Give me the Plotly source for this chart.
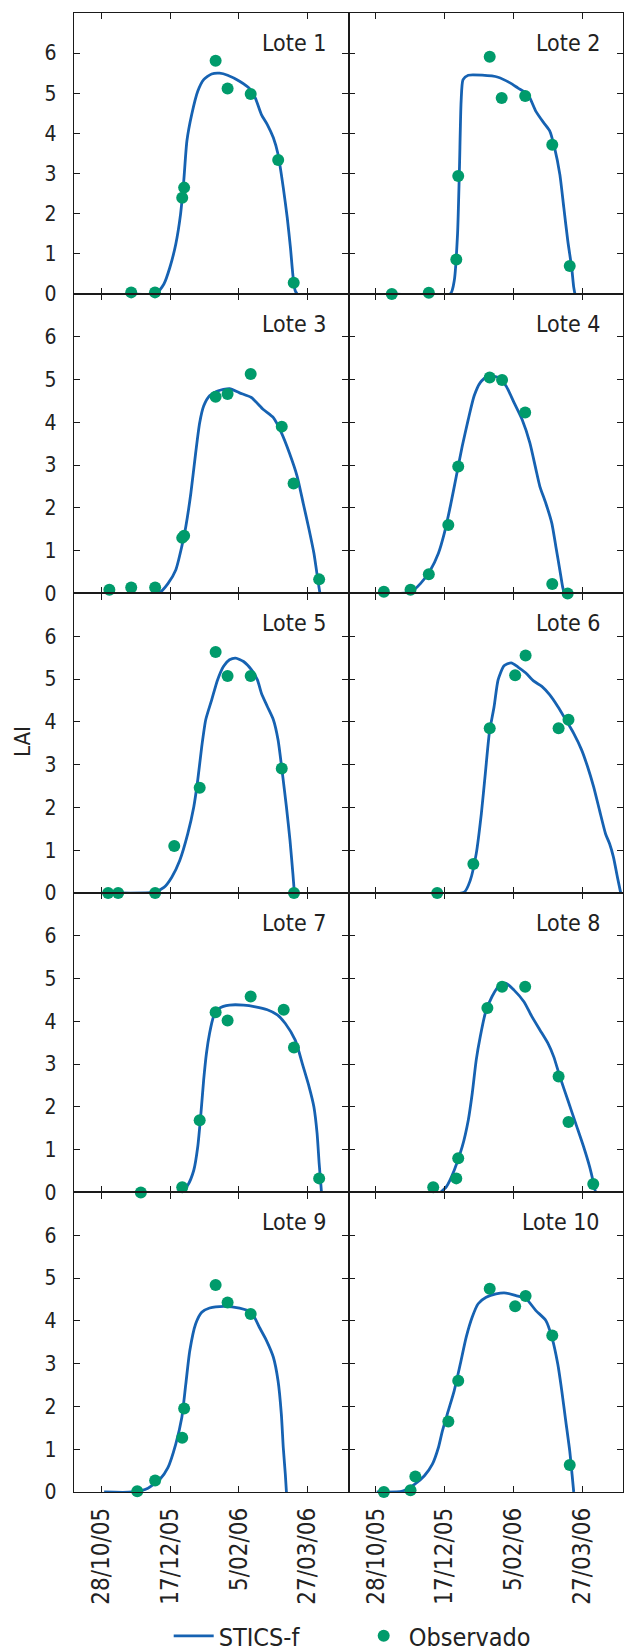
import pandas as pd
import plotly.graph_objects as go
from plotly.subplots import make_subplots

# Days after 28/10/05 (x) and LAI (y)
lote1_sim_dias = [18.0, 39.7, 45.5, 49.8, 54.1, 57.6, 59.9, 62.2, 65.7, 70.1, 74.4, 80.2, 86.0, 91.8, 100.5, 107.7, 112.0, 116.4, 120.7, 125.1, 128.5, 132.3, 135.2, 137.5, 139.5, 141.0, 142.4]
lote1_sim_lai = [0, 0.02, 0.25, 0.66, 1.24, 1.99, 2.81, 3.81, 4.47, 5.05, 5.34, 5.48, 5.50, 5.45, 5.30, 5.12, 4.88, 4.47, 4.22, 3.89, 3.48, 2.65, 1.90, 1.16, 0.41, 0.08, 0]
lote1_obs_dias = [21.7, 39.0, 58.8, 60.2, 83.1, 91.8, 108.6, 128.6, 139.9]
lote1_obs_lai = [0.04, 0.04, 2.40, 2.65, 5.81, 5.12, 4.98, 3.34, 0.28]

lote2_sim_dias = [12.2, 54.1, 57.0, 59.4, 60.8, 62.0, 63.4, 67.2, 77.3, 88.9, 97.6, 103.4, 110.6, 116.4, 122.2, 126.5, 130.0, 133.8, 136.7, 139.6, 142.4, 143.9, 144.8]
lote2_sim_lai = [0, 0, 0.33, 1.49, 3.15, 4.80, 5.34, 5.45, 5.45, 5.40, 5.26, 5.13, 4.97, 4.55, 4.26, 4.06, 3.64, 2.98, 2.15, 1.32, 0.66, 0.17, 0]
lote2_obs_dias = [11.6, 38.5, 58.5, 59.9, 82.8, 91.5, 108.6, 128.3, 141.0]
lote2_obs_lai = [0.0, 0.03, 0.86, 2.94, 5.91, 4.88, 4.93, 3.72, 0.70]

lote3_sim_dias = [22.3, 42.6, 48.4, 54.1, 58.5, 61.4, 65.1, 68.6, 71.5, 74.4, 78.7, 84.5, 93.2, 100.5, 109.1, 117.8, 125.1, 130.9, 136.7, 142.4, 146.8, 151.1, 154.6, 157.5, 159.0]
lote3_sim_lai = [0, 0.03, 0.23, 0.55, 1.10, 1.56, 2.35, 3.29, 3.99, 4.38, 4.62, 4.73, 4.79, 4.69, 4.58, 4.30, 4.11, 3.76, 3.29, 2.74, 2.11, 1.49, 0.94, 0.31, 0]
lote3_obs_dias = [5.8, 21.7, 39.1, 58.8, 60.2, 83.1, 91.8, 108.6, 131.2, 139.8, 158.4]
lote3_obs_lai = [0.09, 0.14, 0.14, 1.30, 1.35, 4.60, 4.66, 5.13, 3.90, 2.57, 0.33]

lote4_sim_dias = [13.6, 25.2, 32.4, 39.7, 45.5, 49.8, 54.1, 58.5, 62.8, 67.2, 71.5, 75.9, 81.7, 88.9, 94.7, 100.5, 106.3, 112.0, 116.4, 119.3, 123.6, 128.0, 130.9, 133.8, 135.8, 137.0]
lote4_sim_lai = [0, 0.03, 0.23, 0.55, 0.94, 1.41, 2.03, 2.74, 3.44, 4.07, 4.62, 4.93, 5.09, 5.05, 4.85, 4.46, 4.07, 3.52, 2.90, 2.50, 2.11, 1.64, 1.10, 0.55, 0.16, 0]
lote4_obs_dias = [5.8, 25.2, 38.5, 52.7, 59.9, 82.8, 91.8, 108.6, 128.3, 139.5]
lote4_obs_lai = [0.04, 0.09, 0.45, 1.60, 2.97, 5.05, 4.99, 4.23, 0.22, 0.0]

lote5_sim_dias = [13.6, 38.2, 45.5, 51.2, 57.0, 62.8, 67.2, 70.1, 73.0, 75.9, 80.2, 84.5, 88.9, 93.2, 97.6, 103.4, 109.1, 113.5, 116.4, 120.7, 125.1, 128.5, 131.7, 134.6, 137.2, 139.3, 140.4]
lote5_sim_lai = [0, 0.02, 0.13, 0.37, 0.76, 1.38, 2.01, 2.64, 3.42, 4.05, 4.51, 4.98, 5.30, 5.45, 5.49, 5.41, 5.22, 4.98, 4.67, 4.36, 4.05, 3.58, 2.79, 2.01, 1.23, 0.45, 0]
lote5_obs_dias = [4.9, 12.2, 39.1, 53.0, 71.5, 83.1, 91.8, 108.6, 131.2, 140.1]
lote5_obs_lai = [0.0, 0.0, 0.0, 1.10, 2.46, 5.63, 5.07, 5.07, 2.91, 0.0]

lote6_sim_dias = [41.1, 64.3, 68.6, 73.0, 76.7, 79.6, 82.5, 86.0, 88.9, 93.2, 98.4, 103.4, 109.1, 114.9, 120.7, 126.5, 132.3, 138.1, 143.9, 149.7, 154.0, 158.4, 162.7, 167.1, 170.0, 172.8, 175.7, 178.1]
lote6_sim_lai = [0, 0.02, 0.29, 0.92, 1.85, 2.79, 3.73, 4.36, 4.98, 5.31, 5.38, 5.28, 5.14, 4.95, 4.83, 4.63, 4.36, 4.05, 3.73, 3.34, 2.95, 2.48, 1.93, 1.38, 1.15, 0.84, 0.37, 0]
lote6_obs_dias = [44.6, 70.9, 82.8, 101.3, 108.9, 132.9, 140.1]
lote6_obs_lai = [0.0, 0.68, 3.85, 5.09, 5.55, 3.85, 4.05]

lote7_sim_dias = [29.5, 58.5, 62.8, 67.2, 70.1, 72.4, 74.4, 76.4, 78.7, 81.6, 86.0, 93.2, 103.4, 112.0, 120.7, 128.0, 133.8, 141.0, 146.8, 151.1, 154.6, 156.9, 158.4, 159.5, 160.1]
lote7_sim_lai = [0, 0.02, 0.17, 0.52, 1.07, 1.85, 2.63, 3.25, 3.72, 4.11, 4.31, 4.38, 4.38, 4.34, 4.27, 4.15, 3.95, 3.56, 2.94, 2.47, 2.00, 1.38, 0.68, 0.25, 0]
lote7_obs_dias = [28.7, 58.8, 71.5, 83.1, 91.8, 108.6, 132.6, 140.1, 158.4]
lote7_obs_lai = [0.0, 0.12, 1.69, 4.21, 4.02, 4.58, 4.27, 3.39, 0.33]

lote8_sim_dias = [46.9, 51.2, 57.0, 62.8, 67.2, 70.1, 73.0, 75.9, 79.6, 84.5, 90.3, 94.7, 100.5, 107.7, 113.5, 119.3, 125.1, 129.4, 133.8, 139.6, 145.4, 151.1, 155.5, 158.4, 159.8]
lote8_sim_lai = [0, 0.13, 0.52, 1.07, 1.69, 2.32, 3.10, 3.64, 4.19, 4.58, 4.85, 4.89, 4.73, 4.46, 4.11, 3.80, 3.49, 3.17, 2.71, 2.16, 1.61, 1.07, 0.60, 0.21, 0]
lote8_obs_dias = [41.7, 58.5, 59.9, 81.1, 91.8, 108.6, 132.9, 140.1, 158.1]
lote8_obs_lai = [0.12, 0.33, 0.80, 4.31, 4.81, 4.81, 2.71, 1.65, 0.20]

lote9_sim_dias = [2.0, 22.3, 33.9, 42.6, 48.4, 54.1, 58.5, 61.4, 64.3, 68.6, 73.0, 78.7, 88.9, 100.5, 109.1, 114.9, 120.1, 125.1, 128.5, 130.9, 132.3, 133.8, 134.6]
lote9_sim_lai = [0, 0, 0.09, 0.30, 0.57, 1.12, 1.74, 2.52, 3.30, 3.93, 4.20, 4.30, 4.34, 4.30, 4.20, 3.85, 3.54, 3.15, 2.60, 1.82, 1.04, 0.41, 0]
lote9_obs_dias = [26.1, 39.1, 58.8, 60.2, 83.1, 91.8, 108.6]
lote9_obs_lai = [0.02, 0.27, 1.27, 1.95, 4.84, 4.43, 4.16]

lote10_sim_dias = [0.6, 19.4, 28.1, 35.3, 41.1, 45.5, 48.4, 52.7, 57.0, 61.4, 65.7, 70.1, 74.4, 80.2, 87.4, 94.7, 101.9, 109.1, 116.4, 123.6, 128.0, 132.3, 135.2, 138.1, 141.0, 142.7, 143.9]
lote10_sim_lai = [0, 0.02, 0.18, 0.38, 0.65, 1.04, 1.43, 1.90, 2.37, 2.99, 3.62, 4.09, 4.40, 4.55, 4.63, 4.65, 4.59, 4.52, 4.24, 4.01, 3.62, 2.99, 2.37, 1.66, 0.96, 0.41, 0]
lote10_obs_dias = [5.8, 25.2, 28.7, 52.7, 59.9, 82.8, 101.3, 108.9, 128.3, 141.0]
lote10_obs_lai = [0.0, 0.04, 0.36, 1.65, 2.60, 4.75, 4.34, 4.58, 3.66, 0.63]

lote_nombres = ["Lote 1", "Lote 2", "Lote 3", "Lote 4", "Lote 5",
                "Lote 6", "Lote 7", "Lote 8", "Lote 9", "Lote 10"]
tick_fechas = ["2005-10-28", "2005-12-17", "2006-02-05", "2006-03-27"]
tick_textos = ["28/10/05", "17/12/05", "5/02/06", "27/03/06"]
y_ticks = [0, 1, 2, 3, 4, 5, 6]
serie_nombres = ["STICS-f", "Observado"]

lotes = [
    (lote1_sim_dias, lote1_sim_lai, lote1_obs_dias, lote1_obs_lai),
    (lote2_sim_dias, lote2_sim_lai, lote2_obs_dias, lote2_obs_lai),
    (lote3_sim_dias, lote3_sim_lai, lote3_obs_dias, lote3_obs_lai),
    (lote4_sim_dias, lote4_sim_lai, lote4_obs_dias, lote4_obs_lai),
    (lote5_sim_dias, lote5_sim_lai, lote5_obs_dias, lote5_obs_lai),
    (lote6_sim_dias, lote6_sim_lai, lote6_obs_dias, lote6_obs_lai),
    (lote7_sim_dias, lote7_sim_lai, lote7_obs_dias, lote7_obs_lai),
    (lote8_sim_dias, lote8_sim_lai, lote8_obs_dias, lote8_obs_lai),
    (lote9_sim_dias, lote9_sim_lai, lote9_obs_dias, lote9_obs_lai),
    (lote10_sim_dias, lote10_sim_lai, lote10_obs_dias, lote10_obs_lai),
]

base = pd.Timestamp("2005-10-28")


def to_dates(dias):
    return [base + pd.Timedelta(days=d) for d in dias]


FONT = "DejaVu Sans Condensed, DejaVu Sans"
TXT_C = "#222222"
LINE_C = "#1662b2"
PT_C = "#009b6b"
AX_C = "#1a1a1a"

fig = make_subplots(rows=5, cols=2, horizontal_spacing=0, vertical_spacing=0,
                    row_heights=[280.8, 299.3, 299.3, 299.3, 299.3])

for i, (sd, sl, od, ol) in enumerate(lotes):
    r = i // 2 + 1
    c = i % 2 + 1
    fig.add_trace(go.Scatter(x=to_dates(sd), y=sl, mode="lines",
                             line=dict(color=LINE_C, width=2.8, shape="spline", smoothing=0.6),
                             name=serie_nombres[0], showlegend=(i == 0), legendrank=1),
                  row=r, col=c)
    fig.add_trace(go.Scatter(x=to_dates(od), y=ol, mode="markers",
                             marker=dict(color=PT_C, size=12),
                             cliponaxis=False,
                             name=serie_nombres[1], showlegend=(i == 0), legendrank=2),
                  row=r, col=c)
    fig.add_annotation(text=lote_nombres[i], xref="x domain" if i == 0 else f"x{i+1} domain",
                       yref="y domain" if i == 0 else f"y{i+1} domain",
                       x=1, y=1, xanchor="right", yanchor="middle",
                       xshift=-21, yshift=-30, showarrow=False,
                       font=dict(family=FONT, size=23, color=TXT_C))

fig.update_xaxes(type="date", range=["2005-10-08 02:00", "2006-04-25 18:00"],
                 tickvals=tick_fechas, ticktext=tick_textos, tickangle=-90,
                 ticks="inside", ticklen=6, tickwidth=1.4, tickcolor=AX_C,
                 showline=True, linewidth=1.3, linecolor=AX_C, mirror="ticks",
                 showgrid=False, zeroline=False, showticklabels=False,
                 tickfont=dict(family=FONT, size=24, color=TXT_C),
                 ticklabelstandoff=5, automargin=False)
fig.update_xaxes(showticklabels=True, row=5)
fig.update_yaxes(range=[0, 7], tickvals=y_ticks,
                 ticks="inside", ticklen=6, tickwidth=1.4, tickcolor=AX_C,
                 showline=True, linewidth=1.3, linecolor=AX_C, mirror="ticks",
                 showgrid=False, zeroline=False, showticklabels=False,
                 tickfont=dict(family=FONT, size=21, color=TXT_C),
                 ticklabelstandoff=12, automargin=False)
fig.update_yaxes(showticklabels=True, col=1)

fig.add_annotation(text="LAI", xref="paper", yref="paper", x=-0.094, y=0.5074,
                   xanchor="center", yanchor="middle", textangle=-90, showarrow=False,
                   font=dict(family=FONT, size=22, color=TXT_C))

fig.update_layout(width=626, height=1651,
                  margin=dict(l=74, r=3, t=13, b=159, autoexpand=False),
                  paper_bgcolor="white", plot_bgcolor="white",
                  font=dict(family=FONT, size=21, color=TXT_C),
                  legend=dict(orientation="h", x=0.1725, xanchor="left", y=-0.0974,
                              yanchor="middle", font=dict(family=FONT, size=25, color=TXT_C),
                              itemwidth=40, tracegroupgap=0, entrywidth=135,
                              entrywidthmode="pixels"))

fig.write_html("out.html")
